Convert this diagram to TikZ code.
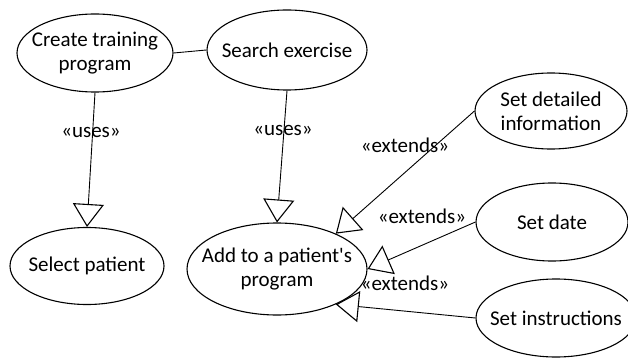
\documentclass[tikz,border=0pt]{standalone}
\usepackage{fontspec}
\newfontfamily\ucfont{Carlito}
\usetikzlibrary{shapes.geometric,arrows.meta}
\begin{document}
\begin{tikzpicture}[x=1pt,y=-1pt,
  usecase/.style={draw,ellipse,line width=1.1pt,inner xsep=-30pt,inner ysep=-20pt,align=center,
    font=\ucfont\fontsize{21}{24}\selectfont},
  link/.style={draw,line width=0.9pt},
  gen/.style={link,-{Triangle[open,length=23pt,width=31pt,line width=1.1pt]}},
  stereo/.style={font=\ucfont\fontsize{21}{24}\selectfont,inner sep=0pt}]
\useasboundingbox (0,0) rectangle (628,358);

% use cases
\node[usecase,minimum width=156pt,minimum height=78pt] (cre) at (95,53) {Create training\\program};
\node[usecase,minimum width=160pt,minimum height=80pt] (se) at (287,50) {Search exercise};
\node[usecase,minimum width=154pt,minimum height=77pt] (sel) at (87,266) {Select patient};
\node[usecase,minimum width=180pt,minimum height=92pt] (add) at (277,269) {Add to a patient's\\program};
\node[usecase,minimum width=152pt,minimum height=76pt] (det) at (551,111) {Set detailed\\information};
\node[usecase,minimum width=152pt,minimum height=78pt] (date) at (552,222) {Set date};
\node[usecase,minimum width=160pt,minimum height=78pt] (ins) at (556,318) {Set instructions};

% associations and relations
\draw[link] (cre.east) -- (se.west);
\draw[gen] (cre.south) -- (sel.north);
\draw[gen] (se.south) -- (add.north);
\draw[gen] (det.west) -- (add.31);
\draw[gen] (date.west) -- (add.east);
\draw[gen] (ins.west) -- (add.-31);

% stereotypes
\node[stereo] (u1) at (91,132) {«uses»};
\node[stereo] (u2) at (283,130) {«uses»};
\node[stereo] (e1) at (405,145) {«extends»};
\node[stereo] (e2) at (422,216) {«extends»};
\node[stereo] (e3) at (405,283) {«extends»};
\end{tikzpicture}
\end{document}
